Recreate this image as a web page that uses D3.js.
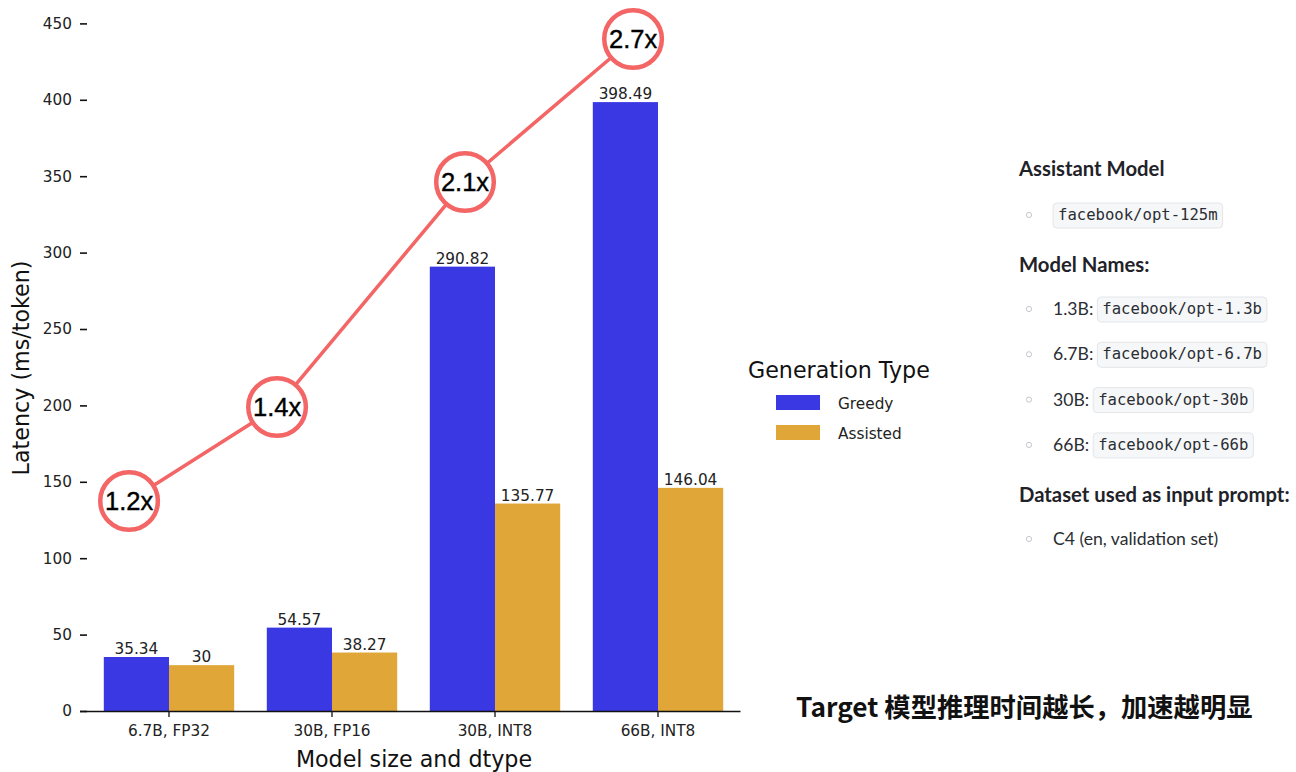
<!DOCTYPE html>
<html>
<head>
<meta charset="utf-8">
<script src="https://cdn.jsdelivr.net/npm/d3@7"></script>
<style>
  html, body { margin: 0; padding: 0; background: #fff; }
  svg { display: block; }
</style>
</head>
<body>
<svg id="chart" width="1296" height="772"></svg>
<script>
// ---------------- data ----------------
const categories = ["6.7B, FP32", "30B, FP16", "30B, INT8", "66B, INT8"];
const seriesNames = ["Greedy", "Assisted"];
const greedy = [35.34, 54.57, 290.82, 398.49];
const assisted = [30, 38.27, 135.77, 146.04];
const yTicks = [0, 50, 100, 150, 200, 250, 300, 350, 400, 450];
const speedupLabels = ["1.2x", "1.4x", "2.1x", "2.7x"];
const speedupPos = [-0.245, 0.663, 1.816, 2.847];   // in category-index units
const speedupY = [137.4, 199, 346.2, 439.8];          // in latency units
const assistantModel = ["facebook/opt-125m"];
const modelKeys = ["1.3B:", "6.7B:", "30B:", "66B:"];
const modelNames = ["facebook/opt-1.3b", "facebook/opt-6.7b", "facebook/opt-30b", "facebook/opt-66b"];
const datasetItems = ["C4 (en, validation set)"];
const noteText = "Target 模型推理时间越长，加速越明显";

// ---------------- setup ----------------
const svg = d3.select("#chart");
const colors = ["#3a38e2", "#e1a638"];
const red = "#f46565";
const mplFont = "'DejaVu Sans', sans-serif";
const smallSize = 15.3;

const x = d3.scaleBand().domain(categories).range([87.5, 739.5]).padding(0);
const xi = d3.scaleLinear().domain([0, 1]).range([x(categories[0]) + x.bandwidth() / 2, x(categories[1]) + x.bandwidth() / 2]);
const y = d3.scaleLinear().domain([0, 450]).range([711, 23.4]);
const barW = x.bandwidth() * 0.4;

// ---------------- bars ----------------
const series = [greedy, assisted];
series.forEach((vals, s) => {
  const g = svg.append("g");
  g.selectAll("rect").data(vals).join("rect")
    .attr("x", (d, i) => x(categories[i]) + x.bandwidth() / 2 + (s - 1) * barW)
    .attr("y", d => y(d))
    .attr("width", barW)
    .attr("height", d => y(0) - y(d))
    .attr("fill", colors[s]);
  g.selectAll("text").data(vals).join("text")
    .attr("x", (d, i) => x(categories[i]) + x.bandwidth() / 2 + (s - 0.5) * barW)
    .attr("y", d => y(d) - 3)
    .attr("text-anchor", "middle")
    .attr("font-family", mplFont)
    .attr("font-size", smallSize)
    .attr("fill", "#222")
    .text(d => d);
});

// ---------------- axes ----------------
const xAxis = svg.append("g").attr("transform", `translate(0,${y(0)})`)
  .call(d3.axisBottom(x).tickSize(6).tickPadding(8));
xAxis.select(".domain").attr("d", "M80,0.5H740.5").attr("stroke", "#111").attr("stroke-width", 1.6);
xAxis.selectAll(".tick line").attr("stroke", "#111").attr("stroke-width", 1.3);
xAxis.selectAll(".tick text").attr("font-family", mplFont).attr("font-size", smallSize).attr("fill", "#222");

const yAxis = svg.append("g").attr("transform", "translate(87,0)")
  .call(d3.axisLeft(y).tickValues(yTicks).tickSize(7).tickPadding(8));
yAxis.select(".domain").remove();
yAxis.selectAll(".tick line").attr("stroke", "#111").attr("stroke-width", 1.6);
yAxis.selectAll(".tick text").attr("font-family", mplFont).attr("font-size", smallSize).attr("fill", "#222");

svg.append("text")
  .attr("x", 414).attr("y", 767)
  .attr("text-anchor", "middle")
  .attr("font-family", mplFont).attr("font-size", 22.2).attr("fill", "#111")
  .text("Model size and dtype");

svg.append("text")
  .attr("transform", "translate(29,368) rotate(-90)")
  .attr("text-anchor", "middle")
  .attr("font-family", mplFont).attr("font-size", 22.2).attr("fill", "#111")
  .text("Latency (ms/token)");

// ---------------- speedup line + circles ----------------
const pts = speedupLabels.map((l, i) => [xi(speedupPos[i]), y(speedupY[i])]);
svg.append("path")
  .attr("d", d3.line()(pts))
  .attr("fill", "none").attr("stroke", red).attr("stroke-width", 3.5);
const cg = svg.append("g").selectAll("g").data(speedupLabels).join("g")
  .attr("transform", (d, i) => `translate(${pts[i][0]},${pts[i][1]})`);
cg.append("circle").attr("r", 28.8).attr("fill", "#fff").attr("stroke", red).attr("stroke-width", 4.5);
cg.append("text")
  .attr("text-anchor", "middle").attr("dy", "0.36em")
  .attr("font-family", "'Liberation Sans', Arial, sans-serif")
  .attr("font-size", 25.5).attr("fill", "#000")
  .attr("stroke", "#000").attr("stroke-width", 0.4)
  .text(d => d);

// ---------------- legend ----------------
const lg = svg.append("g");
lg.append("text").attr("x", 748).attr("y", 378)
  .attr("font-family", mplFont).attr("font-size", 22.2).attr("fill", "#111")
  .text("Generation Type");
seriesNames.forEach((n, i) => {
  lg.append("rect").attr("x", 776).attr("y", 395 + i * 30).attr("width", 44).attr("height", 15).attr("fill", colors[i]);
  lg.append("text").attr("x", 838).attr("y", 409 + i * 30)
    .attr("font-family", mplFont).attr("font-size", smallSize).attr("fill", "#222")
    .text(n);
});

// ---------------- right info panel ----------------
const uiFont = "'Source Sans Pro', Lato, 'Noto Sans', sans-serif";
const monoFont = "'DejaVu Sans Mono', 'Liberation Mono', monospace";
const panel = svg.append("g");

function heading(txt, yy) {
  panel.append("text").attr("x", 1019).attr("y", yy)
    .attr("font-family", uiFont).attr("font-weight", 700).attr("font-size", 20.3).attr("fill", "#1f2329")
    .text(txt);
}
function bullet(yy) {
  panel.append("circle").attr("cx", 1029).attr("cy", yy).attr("r", 2.6)
    .attr("fill", "none").attr("stroke", "#c4c7cc").attr("stroke-width", 1);
}
function chip(txt, x0, yy) {
  const t = panel.append("text").attr("x", x0 + 5).attr("y", yy + 5)
    .attr("font-family", monoFont).attr("font-size", 15.6).attr("fill", "#2a2d33")
    .text(txt);
  const w = t.node().getComputedTextLength();
  panel.insert("rect", () => t.node())
    .attr("x", x0).attr("y", yy - 12).attr("width", w + 10).attr("height", 25)
    .attr("rx", 4).attr("fill", "#f6f7f8").attr("stroke", "#e3e5e8").attr("stroke-width", 1);
}
function plain(txt, x0, yy) {
  const t = panel.append("text").attr("x", x0).attr("y", yy + 6)
    .attr("font-family", uiFont).attr("font-size", 17.6).attr("fill", "#2a2d33")
    .text(txt);
  return t.node().getComputedTextLength();
}

heading("Assistant Model", 176);
assistantModel.forEach((m, i) => { bullet(215); chip(m, 1053, 215); });

heading("Model Names:", 272);
modelKeys.forEach((k, i) => {
  const yy = 309 + i * 45.3;
  bullet(yy);
  const w = plain(k, 1053, yy);
  chip(modelNames[i], 1053 + w + 4, yy);
});

heading("Dataset used as input prompt:", 502);
datasetItems.forEach((d, i) => { bullet(539); plain(d, 1053, 539); });

// ---------------- bottom note ----------------
svg.append("text").attr("x", 796).attr("y", 717)
  .attr("font-family", "'Noto Sans CJK SC', sans-serif").attr("font-weight", 700)
  .attr("font-size", 26.3).attr("fill", "#111")
  .text(noteText);
</script>
</body>
</html>
